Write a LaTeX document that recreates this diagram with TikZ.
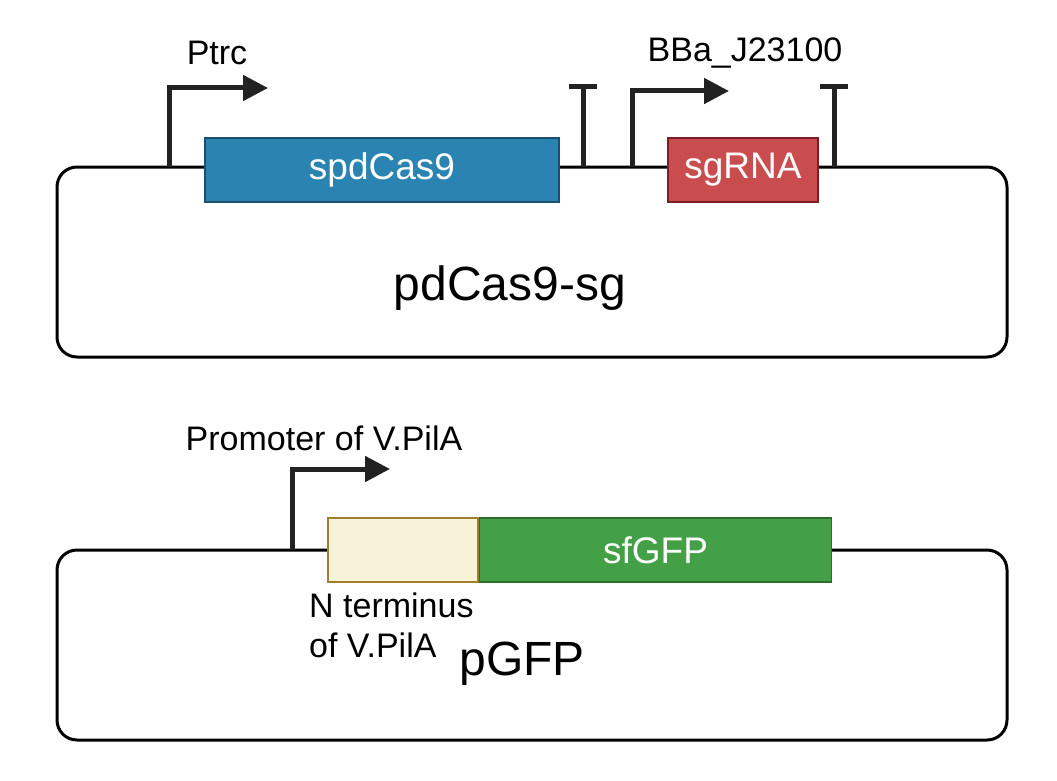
\documentclass[tikz,border=0pt]{standalone}
\usepackage{fontspec}
\setmainfont{Liberation Sans}
\usetikzlibrary{arrows.meta}
\definecolor{dark}{HTML}{222222}
\definecolor{casfill}{HTML}{2A83B1}
\definecolor{casdraw}{HTML}{1B4F6E}
\definecolor{sgfill}{HTML}{C94C4E}
\definecolor{sgdraw}{HTML}{7B1F22}
\definecolor{ntfill}{HTML}{F6F3D8}
\definecolor{ntdraw}{HTML}{A07F2E}
\definecolor{gfpfill}{HTML}{43A046}
\definecolor{gfpdraw}{HTML}{2D6B2F}
\begin{document}
\begin{tikzpicture}[x=1pt,y=-1pt,
  plasmid/.style={draw=black,line width=3pt,rounded corners=20pt},
  gene/.style={draw,line width=1.5pt,inner sep=0pt,text=white,font=\fontsize{37}{43}\selectfont},
  prom/.style={draw=dark,line width=5pt,line join=miter,-{Triangle[length=25pt,width=25pt]}},
  term/.style={draw=dark,line width=5pt},
  lab/.style={font=\fontsize{34}{40}\selectfont,inner sep=0pt},
  big/.style={font=\fontsize{48}{54}\selectfont,inner sep=0pt}]
\useasboundingbox (0,0) rectangle (1057,781);
% top plasmid
\draw[plasmid] (57,167) rectangle (1007,357);
\node[big] (name1) at (510,288) {pdCas9-sg};
\node[gene,fill=casfill,draw=casdraw,minimum width=354pt,minimum height=64pt] (cas) at (382,170) {spdCas9};
\node[gene,fill=sgfill,draw=sgdraw,minimum width=150pt,minimum height=64pt] (sg) at (743,170) {sgRNA};
\coordinate (p1) at (169,167);
\coordinate (p1t) at (268,88);
\draw[prom] (p1) |- (p1t);
\node[lab] (ptrc) at (217,53) {Ptrc};
\coordinate (t1) at (583,167);
\coordinate (t1t) at (583,87);
\draw[term] (t1) -- (t1t);
\draw[term] ([xshift=-14pt]t1t) -- ([xshift=14pt]t1t);
\coordinate (p2) at (632,167);
\coordinate (p2t) at (729,91);
\draw[prom] (p2) |- (p2t);
\node[lab] (bba) at (745,53) {BBa\_J23100};
\coordinate (t2) at (834,167);
\coordinate (t2t) at (834,87);
\draw[term] (t2) -- (t2t);
\draw[term] ([xshift=-14pt]t2t) -- ([xshift=14pt]t2t);
% bottom plasmid
\draw[plasmid] (57,550) rectangle (1007,740);
\node[big] (name2) at (522,664) {pGFP};
\node[gene,fill=ntfill,draw=ntdraw,minimum width=150pt,minimum height=64pt] (nt) at (403,550) {};
\node[gene,fill=gfpfill,draw=gfpdraw,minimum width=352pt,minimum height=64pt,anchor=west] (gfp) at (nt.east) {sfGFP};
\coordinate (p3) at (292,550);
\coordinate (p3t) at (390,469);
\draw[prom] (p3) |- (p3t);
\node[lab] (pvpila) at (324,438) {Promoter of V.PilA};
\node[lab,anchor=west,align=left] (ntlab) at (309,625) {N terminus\\of V.PilA};
\end{tikzpicture}
\end{document}
